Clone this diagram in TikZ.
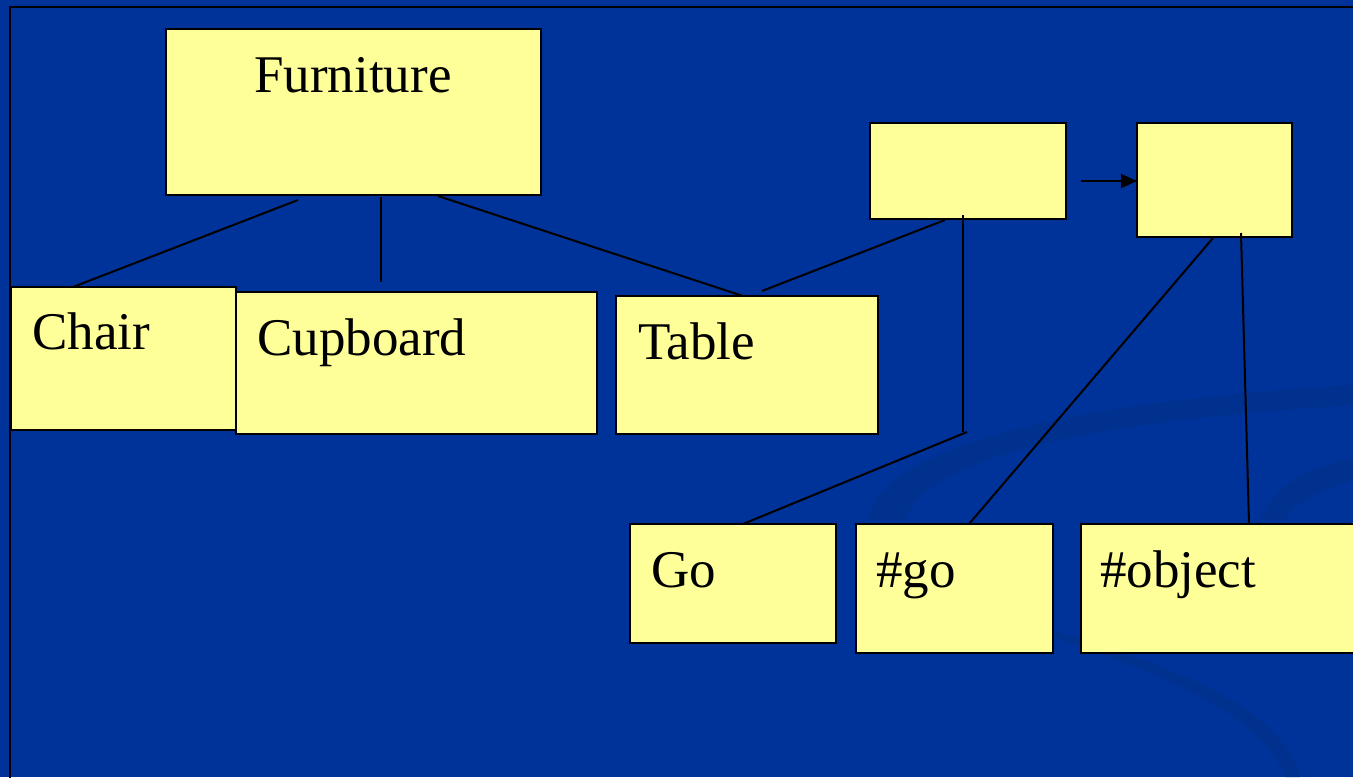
\documentclass[tikz,border=0pt]{standalone}
\usepackage{fontspec}
\setmainfont{Liberation Serif}
\usetikzlibrary{calc,arrows.meta}
\definecolor{slide}{HTML}{003399}
\definecolor{slidedark}{HTML}{00318F}
\definecolor{note}{HTML}{FFFF99}
\tikzset{
  box/.style={draw=black, fill=note, line width=2pt, inner sep=0pt, outer sep=0pt, anchor=north west},
  lbl/.style={inner sep=0pt, anchor=base west, font=\fontsize{53}{60}\selectfont},
  link/.style={draw=black, line width=2pt},
}
\begin{document}
\begin{tikzpicture}[x=1pt, y=-1pt]
\useasboundingbox (0,0) rectangle (1353,777);
\fill[slide] (0,0) rectangle (1353,777);
% faint swirl in the background
\fill[slidedark] (868,520) .. controls (880,440) and (1100,400) .. (1353,385)
  -- (1353,405) .. controls (1120,420) and (930,450) .. (905,520) -- cycle;
\fill[slidedark] (1260,520) .. controls (1275,480) and (1320,465) .. (1353,458)
  -- (1353,480) .. controls (1320,490) and (1290,505) .. (1285,520) -- cycle;
\fill[slidedark] (1050,630) .. controls (1150,660) and (1280,700) .. (1300,777)
  -- (1285,777) .. controls (1260,710) and (1150,670) .. (1050,636) -- cycle;
% slide frame
\draw[black, line width=2pt] (10,780) -- (10,7) -- (1356,7);

% boxes
\node[box, minimum width=375, minimum height=166] (furn) at (166,29) {};
\node[box, minimum width=225, minimum height=143] (chair) at (11,287) {};
\node[box, minimum width=361, minimum height=142] (cup) at (236,292) {};
\node[box, minimum width=262, minimum height=138] (table) at (616,296) {};
\node[box, minimum width=196, minimum height=96] (cls) at (870,123) {};
\node[box, minimum width=155, minimum height=114] (meta) at (1137,123) {};
\node[box, minimum width=206, minimum height=119] (go) at (630,524) {};
\node[box, minimum width=197, minimum height=129] (hgo) at (856,524) {};
\node[box, minimum width=290, minimum height=129] (hobj) at (1081,524) {};

% labels
\node[lbl, anchor=base] (tfurn) at (353,92) {Furniture};
\node[lbl] (tchair) at (32,349) {Chair};
\node[lbl] (tcup) at (257,355) {Cupboard};
\node[lbl] (ttable) at (638,359) {Table};
\node[lbl] (tgo) at (651,587) {Go};
\node[lbl] (thgo) at (876,587) {\#go};
\node[lbl] (thobj) at (1100,587) {\#object};

% connectors
\coordinate (j1) at (963,432);
\draw[link] ($(furn.south west)+(132,5)$) -- ($(chair.north west)+(62,0)$);
\draw[link] ($(furn.south west)+(215,2)$) -- ($(cup.north west)+(145,-10)$);
\draw[link] ($(furn.south west)+(272,1)$) -- ($(table.north west)+(127,0)$);
\draw[link] ($(table.north west)+(146,-5)$) -- ($(cls.south west)+(75,1)$);
\draw[link] ($(cls.south west)+(93,-4)$) -- (j1);
\draw[link] ($(j1)+(4,0)$) -- ($(go.north west)+(113,0)$);
\draw[link] ($(meta.south west)+(76,1)$) -- ($(hgo.north west)+(113,0)$);
\draw[link] ($(meta.south west)+(104,-4)$) -- ($(hobj.north west)+(168,0)$);
\draw[link, -{Triangle[length=16pt, width=14pt]}] ($(cls.east)+(15,10)$) -- ($(meta.west)+(0,1)$);
\end{tikzpicture}
\end{document}
